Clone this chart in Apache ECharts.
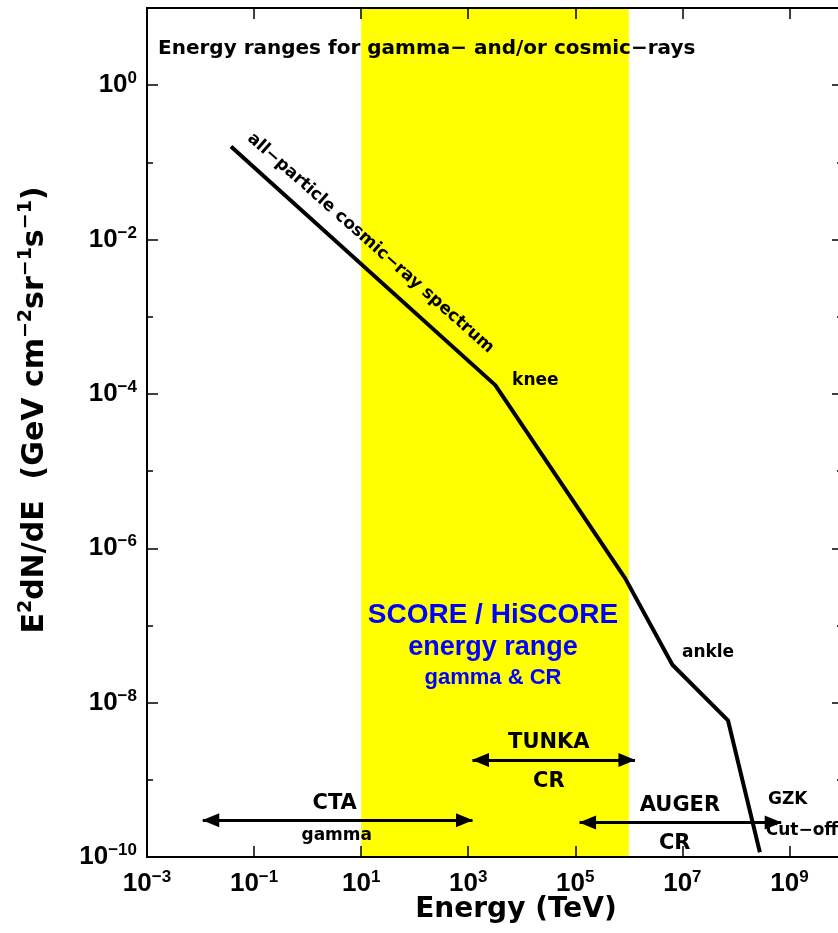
<!DOCTYPE html>
<html>
<head>
<meta charset="utf-8">
<title>Energy ranges for gamma- and/or cosmic-rays</title>
<style>
    html, body { margin: 0; padding: 0; background: #fff; }
    #main { width: 838px; height: 933px; }
</style>
</head>
<body>
<div id="main"></div>
<script src="https://cdn.jsdelivr.net/npm/echarts@6/dist/echarts.min.js"></script>
<script>
// all-particle cosmic-ray spectrum: energy (TeV) and E^2 dN/dE (GeV cm^-2 sr^-1 s^-1)
var spectrumEnergy = [0.037, 3.2e3, 8.5e5, 6.5e6, 7.1e7, 2.8e8];
var spectrumFlux = [0.16, 1.3e-4, 4.1e-7, 3.1e-8, 5.9e-9, 1.15e-10];

// SCORE / HiSCORE energy range (TeV)
var scoreRange = [10, 1e6];

// experiment ranges (arrows)
var rangeNames = ['CTA', 'TUNKA', 'AUGER'];
var rangeFrom = [0.011, 1.2e3, 1.2e5];
var rangeTo = [1.2e3, 1.3e6, 7e8];
var rangeLevel = [3.0e-10, 1.8e-9, 2.8e-10];

// labelled decades
var xTickExp = [-3, -1, 1, 3, 5, 7, 9];
var yTickExp = [0, -2, -4, -6, -8, -10];

var lg = Math.log10;
var xMin = -3, xMax = 10, yMin = -10, yMax = 1;

var black = "'DejaVu Sans', sans-serif";
var narrow = "'Liberation Sans Narrow', 'Liberation Sans', Arial, sans-serif";
var helv = "'Liberation Sans', Arial, sans-serif";

var tickRich = {
    b: { fontFamily: narrow, fontWeight: 'bold', fontSize: 26, lineHeight: 30, color: '#000' },
    s: { fontFamily: narrow, fontWeight: 'bold', fontSize: 17, lineHeight: 17, verticalAlign: 'top', color: '#000' }
};

function powLabel(list) {
    return function (v) {
        var e = Math.round(v);
        if (Math.abs(v - e) > 1e-6 || list.indexOf(e) < 0) return '';
        return '{b|10}{s|' + (e < 0 ? '\u2212' + (-e) : e) + '}';
    };
}

function xAxisOf(pos, showLabel) {
    return {
        type: 'value', position: pos, min: xMin, max: xMax, interval: 2, z: 10,
        axisLine: { show: true, onZero: false, lineStyle: { color: '#000', width: 2 } },
        axisTick: { show: true, inside: true, length: 11, lineStyle: { color: '#000', width: 1.5 } },
        axisLabel: { show: showLabel, margin: 12, formatter: powLabel(xTickExp), rich: tickRich },
        splitLine: { show: false }
    };
}

function yAxisOf(pos, step, len, showLabel) {
    return {
        type: 'value', position: pos, min: yMin, max: yMax, interval: step, z: 10,
        axisLine: { show: true, onZero: false, lineStyle: { color: '#000', width: 2 } },
        axisTick: { show: true, inside: true, length: len, lineStyle: { color: '#000', width: 1.5 } },
        axisLabel: { show: showLabel, margin: 10, formatter: powLabel(yTickExp), rich: tickRich },
        splitLine: { show: false }
    };
}

function note(text, e, f, label) {
    return {
        value: [lg(e), lg(f)],
        label: Object.assign({
            show: true, formatter: text, position: 'inside', color: '#000', opacity: 1,
            fontFamily: black, fontWeight: 'bold', fontSize: 21, textBorderWidth: 0
        }, label || {})
    };
}

var blueText = { color: '#0000ff', fontFamily: helv };

var notes = [
    note('all\u2212particle cosmic\u2212ray spectrum', 15, 9.0e-3, { fontSize: 17, rotate: -41.5 }),
    note('knee', 6.6e3, 1.5e-4, { position: 'right', distance: 0, fontSize: 17 }),
    note('ankle', 9.8e6, 4.5e-8, { position: 'right', distance: 0, fontSize: 17 }),
    note('SCORE / HiSCORE', 2.9e3, 1.36e-7, Object.assign({ fontSize: 28 }, blueText)),
    note('energy range', 2.9e3, 5.2e-8, Object.assign({ fontSize: 27 }, blueText)),
    note('gamma & CR', 2.9e3, 2.1e-8, Object.assign({ fontSize: 22 }, blueText)),
    note('CTA', 3.2, 5.0e-10),
    note('gamma', 3.5, 1.9e-10, { fontSize: 17 }),
    note('TUNKA', 3.2e4, 3.0e-9),
    note('CR', 3.2e4, 9.5e-10),
    note('AUGER', 9.0e6, 4.7e-10),
    note('CR', 7.2e6, 1.5e-10),
    note('GZK', 9.3e8, 5.6e-10, { fontSize: 17 }),
    note('Cut\u2212off', 3.6e8, 2.2e-10, { position: 'right', distance: 0, fontSize: 17 })
];

var arrows = rangeNames.map(function (n, i) {
    return [
        { name: n, coord: [lg(rangeFrom[i]), lg(rangeLevel[i])] },
        { coord: [lg(rangeTo[i]), lg(rangeLevel[i])] }
    ];
});

var myChart = echarts.init(document.getElementById('main'));

var option = {
    animation: false,
    backgroundColor: '#fff',
    title: {
        text: 'Energy ranges for gamma\u2212 and/or cosmic\u2212rays',
        left: 153, top: 34,
        textStyle: { fontFamily: black, fontWeight: 'bold', fontSize: 20, color: '#000' }
    },
    grid: { left: 147, top: 8, width: 696, height: 849, containLabel: false, outerBoundsMode: 'none' },
    xAxis: [xAxisOf('bottom', true), xAxisOf('top', false)],
    yAxis: [
        yAxisOf('left', 2, 11, true),
        yAxisOf('left', 1, 6, false),
        yAxisOf('right', 2, 11, false),
        yAxisOf('right', 1, 6, false)
    ],
    graphic: [
        {
            type: 'text', x: 35, y: 410, rotation: Math.PI / 2,
            style: {
                text: '{b|E}{s|2}{b|dN/dE  (GeV cm}{s|\u22122}{b|sr}{s|\u22121}{b|s}{s|\u22121}{b|)}',
                align: 'center', verticalAlign: 'middle',
                rich: {
                    b: { fontFamily: black, fontWeight: 'bold', fontSize: 30, lineHeight: 36, fill: '#000' },
                    s: { fontFamily: black, fontWeight: 'bold', fontSize: 19, lineHeight: 20, verticalAlign: 'top', fill: '#000' }
                }
            }
        },
        {
            type: 'text', x: 516, y: 910,
            style: {
                text: 'Energy (TeV)', align: 'center', verticalAlign: 'middle',
                fontFamily: black, fontWeight: 'bold', fontSize: 28, fill: '#000'
            }
        }
    ],
    series: [
        {
            name: 'all-particle spectrum',
            type: 'line',
            xAxisIndex: 0, yAxisIndex: 0,
            data: spectrumEnergy.map(function (e, i) { return [lg(e), lg(spectrumFlux[i])]; }),
            symbol: 'none',
            z: 4,
            lineStyle: { color: '#000', width: 4, join: 'round' },
            markArea: {
                silent: true,
                itemStyle: { color: '#ffff00', opacity: 1 },
                data: [[{ xAxis: lg(scoreRange[0]) }, { xAxis: lg(scoreRange[1]) }]]
            }
        },
        {
            name: 'notes',
            type: 'scatter',
            xAxisIndex: 0, yAxisIndex: 0,
            symbolSize: 0,
            silent: true,
            z: 5,
            itemStyle: { opacity: 1 },
            data: notes,
            markLine: {
                silent: true,
                symbol: ['triangle', 'triangle'],
                symbolSize: [14, 17],
                symbolOffset: [[0, 8], [0, 8]],
                label: { show: false },
                itemStyle: { color: '#000', opacity: 1 },
                lineStyle: { color: '#000', width: 3, type: 'solid', opacity: 1 },
                emphasis: { disabled: true },
                data: arrows
            }
        }
    ]
};

myChart.setOption(option);
</script>
</body>
</html>
